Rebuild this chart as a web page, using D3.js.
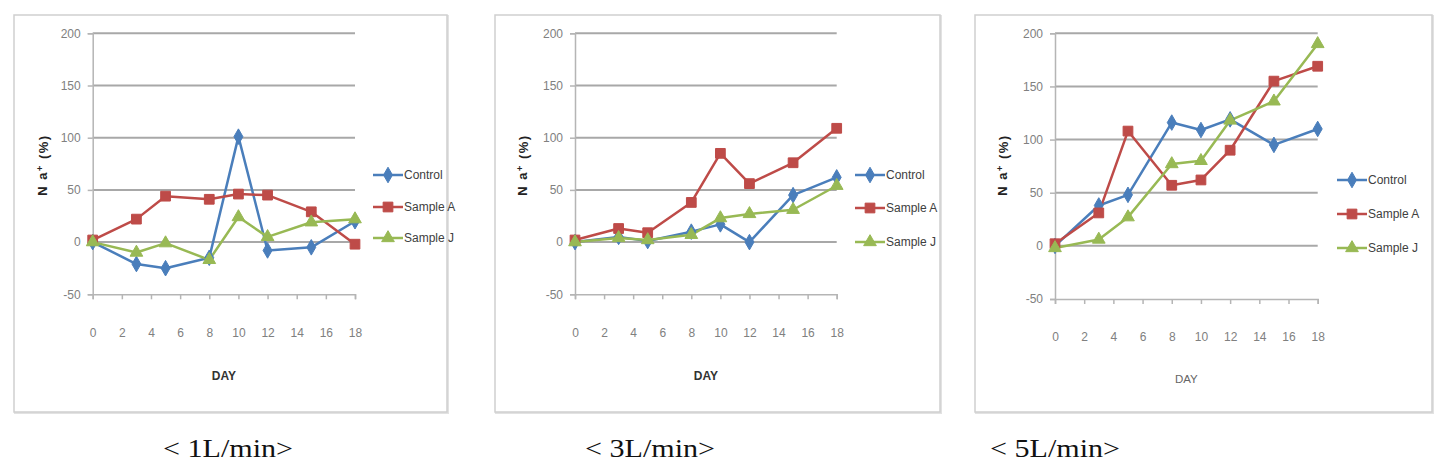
<!DOCTYPE html>
<html>
<head>
<meta charset="utf-8">
<script src="https://cdn.jsdelivr.net/npm/d3@7"></script>
<style>
  html, body { margin: 0; padding: 0; background: #ffffff; }
  svg { display: block; }
</style>
</head>
<body>
<svg id="chart" width="1447" height="465"></svg>
<script>
// ---- data ----
const days = [0, 3, 5, 8, 10, 12, 15, 18];
const xTicks = [0, 2, 4, 6, 8, 10, 12, 14, 16, 18];
const yTicks = [-50, 0, 50, 100, 150, 200];
const seriesNames = ["Control", "Sample A", "Sample J"];
const captions = ["< 1L/min>", "< 3L/min>", "< 5L/min>"];

const control1 = [0, -21, -25, -15, 101, -8, -5, 20];
const sampleA1 = [2, 22, 44, 41, 46, 45, 29, -2];
const sampleJ1 = [0, -10, -1, -17, 24, 5, 19, 22];

const control3 = [0, 5, 1, 10, 17, 0, 45, 62];
const sampleA3 = [2, 13, 9, 38, 85, 56, 76, 109];
const sampleJ3 = [0, 4, 2, 7, 23, 27, 31, 54];

const control5 = [0, 38, 48, 116, 109, 119, 95, 110];
const sampleA5 = [2, 31, 108, 57, 62, 90, 155, 169];
const sampleJ5 = [-2, 6, 27, 77, 80, 118, 136, 190];

const panelData = [
  [control1, sampleA1, sampleJ1],
  [control3, sampleA3, sampleJ3],
  [control5, sampleA5, sampleJ5]
];

// ---- layout / style ----
const colors = ["#4A7EBB", "#BE4B48", "#98B954"];
const symbols = [d3.symbolDiamond, d3.symbolSquare, d3.symbolTriangle];
const symSizes = [70, 95, 70];

const panels = [
  { fx: 14,  fw: 433, x0: 92.7, x1: 355,   yb: 294.3, yt: 33.3, ylabX: 42,
    legX: 373, legY: [175, 207, 238], xLabY: 337, dayY: 380, dayBold: true, capX: 163 },
  { fx: 495, fw: 445, x0: 575,  x1: 836.7, yb: 294.3, yt: 33.3, ylabX: 522,
    legX: 855, legY: [175, 208, 242], xLabY: 337, dayY: 380, dayBold: true, capX: 585 },
  { fx: 975, fw: 457, x0: 1055, x1: 1317.7, yb: 299, yt: 33.3, ylabX: 1002,
    legX: 1337, legY: [180, 214, 248], xLabY: 341, dayY: 383, dayBold: false, capX: 990 }
];

const svg = d3.select("#chart");
const fmt = d => String(d);

panels.forEach((p, pi) => {
  const g = svg.append("g");

  // frame
  g.append("rect")
    .attr("x", p.fx + 1).attr("y", 16)
    .attr("width", p.fw).attr("height", 397)
    .attr("fill", "none").attr("stroke", "#e2e2e2").attr("stroke-width", 2);
  g.append("rect")
    .attr("x", p.fx).attr("y", 15)
    .attr("width", p.fw).attr("height", 397)
    .attr("fill", "#ffffff").attr("stroke", "#cfcfcf").attr("stroke-width", 1.5);

  const x = d3.scaleLinear().domain([0, 18]).range([p.x0, p.x1]);
  const y = d3.scaleLinear().domain([-50, 200]).range([p.yb, p.yt]);

  // gridlines
  g.append("g").selectAll("line")
    .data(yTicks.filter(v => v > -50))
    .join("line")
    .attr("x1", p.x0).attr("x2", p.x1)
    .attr("y1", d => y(d)).attr("y2", d => y(d))
    .attr("stroke", "#a8a8a8").attr("stroke-width", 2);

  // y axis
  const yAxis = d3.axisLeft(y).tickValues(yTicks).tickFormat(fmt).tickSize(5).tickPadding(7);
  const ya = g.append("g").attr("transform", `translate(${p.x0},0)`).call(yAxis);
  ya.select(".domain").attr("stroke", "#b5b5b5").attr("stroke-width", 1.5);
  ya.selectAll(".tick line").attr("stroke", "#b5b5b5").attr("stroke-width", 1.5);
  ya.selectAll(".tick text")
    .attr("fill", "#808080").style("font-family", "'Liberation Sans', Arial, sans-serif")
    .style("font-size", "12px");

  // x axis
  const xAxis = d3.axisBottom(x).tickValues(xTicks).tickFormat(fmt).tickSize(5).tickPadding(0);
  const xa = g.append("g").attr("transform", `translate(0,${p.yb})`).call(xAxis);
  xa.select(".domain").attr("stroke", "#b5b5b5").attr("stroke-width", 1.5);
  xa.selectAll(".tick line").attr("stroke", "#b5b5b5").attr("stroke-width", 1.5);
  xa.selectAll(".tick text")
    .attr("y", p.xLabY - p.yb).attr("dy", 0)
    .attr("fill", "#808080").style("font-family", "'Liberation Sans', Arial, sans-serif")
    .style("font-size", "12px");

  // axis titles
  g.append("text")
    .attr("x", (p.x0 + p.x1) / 2).attr("y", p.dayY)
    .attr("text-anchor", "middle")
    .attr("fill", p.dayBold ? "#333" : "#666")
    .style("font-family", "'Liberation Sans', Arial, sans-serif")
    .style("font-size", p.dayBold ? "12px" : "11.5px")
    .style("font-weight", p.dayBold ? "bold" : "normal")
    .text("DAY");

  const yl = g.append("text")
    .attr("transform", `translate(${p.ylabX},165) rotate(-90)`)
    .attr("text-anchor", "middle").attr("dy", "0.35em")
    .attr("fill", "#222")
    .style("font-family", "'Liberation Sans', Arial, sans-serif")
    .style("font-size", "13px").style("font-weight", "bold")
    .style("letter-spacing", "1.5px");
  yl.append("tspan").text("N a");
  yl.append("tspan").attr("dy", "-0.4em").style("font-size", "9px").text("+");
  yl.append("tspan").attr("dy", "0.4em").text(" (%)");

  // lines & markers
  const line = d3.line().x((d, i) => x(days[i])).y(d => y(d));
  panelData[pi].forEach((vals, si) => {
    g.append("path").datum(vals)
      .attr("d", line)
      .attr("fill", "none").attr("stroke", colors[si])
      .attr("stroke-width", 2.5).attr("stroke-linejoin", "round");
  });
  panelData[pi].forEach((vals, si) => {
    g.append("g").selectAll("path")
      .data(vals).join("path")
      .attr("transform", (d, i) => `translate(${x(days[i])},${y(d)})`)
      .attr("d", d3.symbol().type(symbols[si]).size(symSizes[si]))
      .attr("fill", colors[si]).attr("stroke", colors[si]).attr("stroke-width", 1);
  });

  // legend
  seriesNames.forEach((name, si) => {
    const ly = p.legY[si];
    g.append("line")
      .attr("x1", p.legX).attr("x2", p.legX + 30)
      .attr("y1", ly).attr("y2", ly)
      .attr("stroke", colors[si]).attr("stroke-width", 2.5);
    g.append("path")
      .attr("transform", `translate(${p.legX + 15},${ly})`)
      .attr("d", d3.symbol().type(symbols[si]).size(symSizes[si]))
      .attr("fill", colors[si]).attr("stroke", colors[si]);
    g.append("text")
      .attr("x", p.legX + 31).attr("y", ly).attr("dy", "0.35em")
      .attr("fill", "#404040")
      .style("font-family", "'Liberation Sans', Arial, sans-serif")
      .style("font-size", "12px")
      .text(name);
  });

  // caption
  svg.append("text")
    .attr("x", p.capX).attr("y", 457)
    .attr("textLength", 130).attr("lengthAdjust", "spacingAndGlyphs")
    .attr("fill", "#111")
    .style("font-family", "'Liberation Serif', 'DejaVu Serif', serif")
    .style("font-size", "25px")
    .text(captions[pi]);
});
</script>
</body>
</html>
